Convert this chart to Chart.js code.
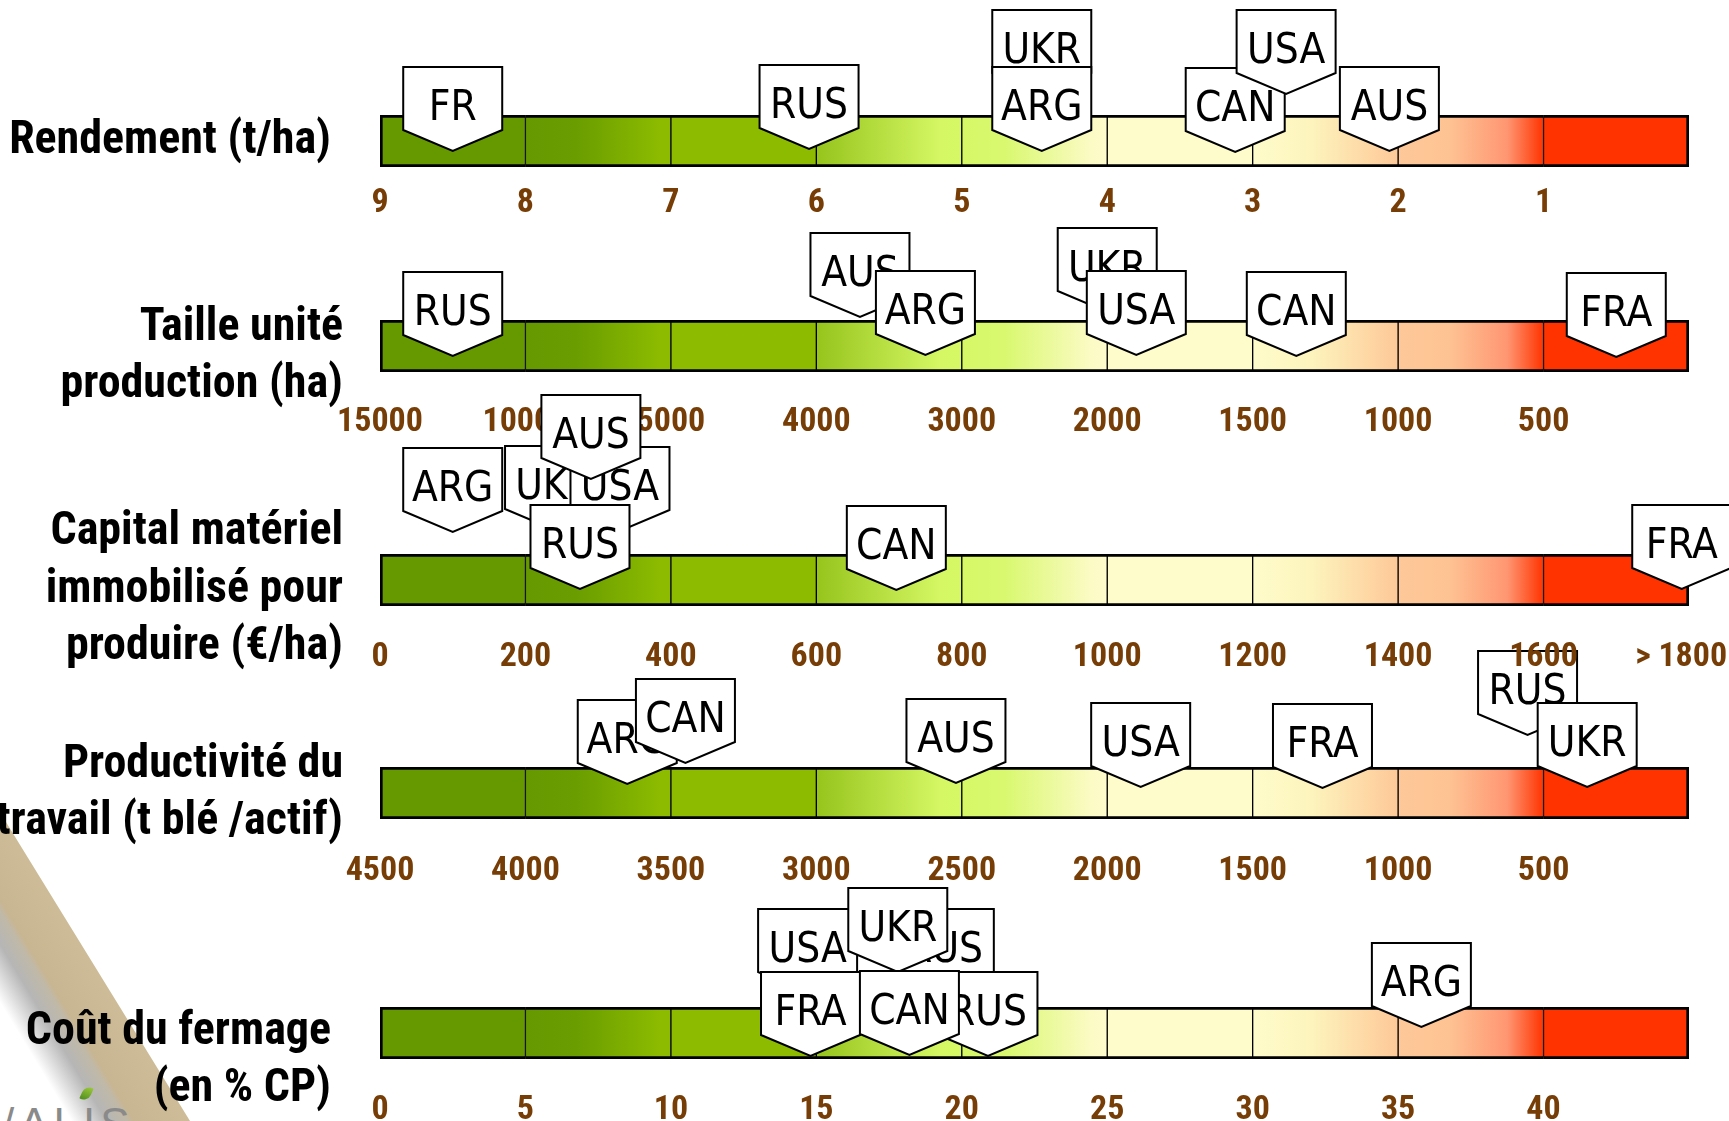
<!DOCTYPE html>
<html lang="fr">
<head>
<meta charset="utf-8">
<title>Compétitivité blé</title>
<script src="https://cdn.jsdelivr.net/npm/chart.js@4.4.1/dist/chart.umd.min.js"></script>
<style>
  html, body { margin: 0; padding: 0; background: #fff; }
  body { width: 1729px; height: 1121px; position: relative; overflow: hidden; }
  .ligne { position: absolute; left: 0; }
  #c3 { z-index: 2; }
  #bandeau { position: absolute; left: 0; top: 0; }
  #logo {
    position: absolute; left: 2px; top: 1099px; line-height: 1;
    font: 44px "Liberation Sans", sans-serif; color: #8a8a8a; letter-spacing: 5px;
  }
  #feuille {
    position: absolute; left: 82px; top: 1086px; width: 9px; height: 15px;
    background: linear-gradient(#9cc83a, #4f8f1c); border-radius: 8px 1px 8px 1px;
    transform: rotate(25deg);
  }
</style>
</head>
<body>
<svg id="bandeau" width="300" height="1121" viewBox="0 0 300 1121">
  <defs>
    <linearGradient id="gBandeau" gradientUnits="userSpaceOnUse" x1="30" y1="1052" x2="116" y2="1000">
      <stop offset="0" stop-color="#ffffff"/>
      <stop offset="0.3" stop-color="#b6b6b6"/>
      <stop offset="0.47" stop-color="#c0b9a8"/>
      <stop offset="0.53" stop-color="#c8b692"/>
      <stop offset="1" stop-color="#cdbc97"/>
    </linearGradient>
  </defs>
  <polygon points="0,812 9,827 190,1121 0,1121" fill="url(#gBandeau)"/>
</svg>
<div id="logo">/ALIS</div>
<div id="feuille"></div>
<canvas class="ligne" id="c1"></canvas>
<canvas class="ligne" id="c2"></canvas>
<canvas class="ligne" id="c3"></canvas>
<canvas class="ligne" id="c4"></canvas>
<canvas class="ligne" id="c5"></canvas>
<script>
// ---- données ----
const rendementTitre = ['Rendement (t/ha)'];
const rendementBornes = [9, 8, 7, 6, 5, 4, 3, 2, 1, 0];
const rendementEtiquettes = ['9', '8', '7', '6', '5', '4', '3', '2', '1', ''];
const rendementPays = ['FR', 'RUS', 'UKR', 'ARG', 'CAN', 'USA', 'AUS'];
const rendementValeurs = [8.5, 6.05, 4.45, 4.45, 3.12, 2.77, 2.06];

const tailleTitre = ['Taille unité', 'production (ha)'];
const tailleBornes = [15000, 10000, 5000, 4000, 3000, 2000, 1500, 1000, 500, 0];
const tailleEtiquettes = ['15000', '10000', '5000', '4000', '3000', '2000', '1500', '1000', '500', ''];
const taillePays = ['RUS', 'AUS', 'ARG', 'UKR', 'USA', 'CAN', 'FRA'];
const tailleValeurs = [12500, 3700, 3250, 2000, 1900, 1350, 250];

const capitalTitre = ['Capital matériel', 'immobilisé pour', 'produire (€/ha)'];
const capitalBornes = [0, 200, 400, 600, 800, 1000, 1200, 1400, 1600, 1800];
const capitalEtiquettes = ['0', '200', '400', '600', '800', '1000', '1200', '1400', '1600', '> 1800\u00a0\u00a0'];
const capitalPays = ['ARG', 'UKR', 'USA', 'AUS', 'RUS', 'CAN', 'FRA'];
const capitalValeurs = [100, 240, 330, 290, 275, 710, 1790];

const productiviteTitre = ['Productivité du', 'travail (t blé /actif)'];
const productiviteBornes = [4500, 4000, 3500, 3000, 2500, 2000, 1500, 1000, 500, 0];
const productiviteEtiquettes = ['4500', '4000', '3500', '3000', '2500', '2000', '1500', '1000', '500', ''];
const productivitePays = ['ARG', 'CAN', 'AUS', 'USA', 'FRA', 'RUS', 'UKR'];
const productiviteValeurs = [3650, 3450, 2520, 1885, 1260, 555, 350];

const fermageTitre = ['Coût du fermage', '(en % CP)'];
const fermageBornes = [0, 5, 10, 15, 20, 25, 30, 35, 40, 45];
const fermageEtiquettes = ['0', '5', '10', '15', '20', '25', '30', '35', '40', ''];
const fermagePays = ['AUS', 'USA', 'UKR', 'RUS', 'FRA', 'CAN', 'ARG'];
const fermageValeurs = [19.4, 14.7, 17.8, 20.9, 14.8, 18.2, 35.8];

// ---- mise en page (px) ----
const PAD_HAUT = 175;   // place au-dessus de la barre pour les balises
const BARRE_H = 52;
const AXE_H = 80;
const BRUN = '#773d06';
const POLICE_ETROITE = '"Roboto Condensed", "Liberation Sans Narrow", "DejaVu Sans Condensed", sans-serif';

// pointes : hauteur de la pointe de chaque balise par rapport au haut de la barre
const lignes = [
  { canvas: 'c1', haut: 115, titre: rendementTitre, bornes: rendementBornes, etiquettes: rendementEtiquettes,
    pays: rendementPays, valeurs: rendementValeurs, pointes: [36, 34, -21, 36, 37, -21, 36],
    padTick: 16, padTitre: 49, decalTitre: 0 },
  { canvas: 'c2', haut: 320, titre: tailleTitre, bornes: tailleBornes, etiquettes: tailleEtiquettes,
    pays: taillePays, valeurs: tailleValeurs, pointes: [36, -3, 35, -8, 35, 36, 37],
    padTick: 30, padTitre: 37, decalTitre: 11 },
  { canvas: 'c3', haut: 554, titre: capitalTitre, bornes: capitalBornes, etiquettes: capitalEtiquettes,
    pays: capitalPays, valeurs: capitalValeurs, pointes: [-22, -24, -23, -75, 35, 36, 35],
    padTick: 31, padTitre: 37, decalTitre: 10 },
  { canvas: 'c4', haut: 767, titre: productiviteTitre, bornes: productiviteBornes, etiquettes: productiviteEtiquettes,
    pays: productivitePays, valeurs: productiviteValeurs, pointes: [17, -4, 16, 20, 21, -32, 20],
    padTick: 32, padTitre: 37, decalTitre: 1 },
  { canvas: 'c5', haut: 1007, titre: fermageTitre, bornes: fermageBornes, etiquettes: fermageEtiquettes,
    pays: fermagePays, valeurs: fermageValeurs, pointes: [-14, -14, -35, 49, 49, 48, 20],
    padTick: 31, padTitre: 49, decalTitre: 28 }
];

// 9 cases de l'échelle : vert foncé -> jaune pâle -> rouge
const CASES = [
  [[0, '#669900'], [1, '#669900']],
  [[0, '#669900'], [0.35, '#6a9d00'], [0.92, '#8cbb00'], [1, '#8cbb00']],
  [[0, '#8cbb00'], [1, '#8cbb00']],
  [[0, '#96c41c'], [0.85, '#d4f763'], [1, '#d6f866']],
  [[0, '#d6f866'], [0.3, '#d9f870'], [0.9, '#fcfbc6'], [1, '#fefccb']],
  [[0, '#fefccb'], [1, '#fefccb']],
  [[0, '#fefccb'], [0.4, '#fdf4bd'], [1, '#fec898']],
  [[0, '#fec898'], [0.35, '#fec393'], [0.75, '#ff9672'], [1, '#ff3300']],
  [[0, '#ff3300'], [1, '#ff3300']]
];

// valeur réelle -> position sur l'échelle par cases (0..9)
function versPosition(valeur, bornes) {
  for (let i = 0; i < bornes.length - 1; i++) {
    const a = bornes[i], b = bornes[i + 1];
    if ((valeur - a) * (valeur - b) <= 0) return i + (valeur - a) / (b - a);
  }
  return bornes.length - 1;
}

function degrade(chart, i, arrets) {
  if (!chart.chartArea) return arrets[0][1];
  const x = chart.scales.x;
  const g = chart.ctx.createLinearGradient(x.getPixelForValue(i), 0, x.getPixelForValue(i + 1), 0);
  arrets.forEach(([p, c]) => g.addColorStop(p, c));
  return g;
}

function dessinerBalise(ctx, x, yPointe, texte) {
  const w = 99, hRect = 63, hPointe = 21;
  const top = yPointe - hRect - hPointe;
  ctx.save();
  ctx.beginPath();
  ctx.moveTo(x - w / 2, top);
  ctx.lineTo(x + w / 2, top);
  ctx.lineTo(x + w / 2, top + hRect);
  ctx.lineTo(x, yPointe);
  ctx.lineTo(x - w / 2, top + hRect);
  ctx.closePath();
  ctx.fillStyle = '#fff';
  ctx.fill();
  ctx.lineWidth = 2;
  ctx.strokeStyle = '#000';
  ctx.stroke();
  ctx.fillStyle = '#000';
  ctx.font = '42px "DejaVu Sans Condensed", "DejaVu Sans", sans-serif';
  ctx.textAlign = 'center';
  ctx.textBaseline = 'alphabetic';
  ctx.fillText(texte, x, top + 53);
  ctx.restore();
}

function balises(ligne) {
  return {
    id: 'balises',
    afterDatasetsDraw(chart) {
      const x = chart.scales.x;
      ligne.pays.forEach((nom, i) => {
        const px = x.getPixelForValue(versPosition(ligne.valeurs[i], ligne.bornes));
        dessinerBalise(chart.ctx, px, chart.chartArea.top + ligne.pointes[i], nom);
      });
    }
  };
}

function creerLigne(ligne) {
  const canvas = document.getElementById(ligne.canvas);
  canvas.width = 1729;
  canvas.height = PAD_HAUT + BARRE_H + AXE_H;
  canvas.style.top = (ligne.haut - PAD_HAUT) + 'px';

  const datasets = CASES.map((arrets, i) => ({
    data: [1],
    backgroundColor: (c) => degrade(c.chart, i, arrets),
    borderColor: '#000',
    borderWidth: { top: 3, bottom: 3, left: i === 0 ? 3 : 1, right: i === CASES.length - 1 ? 3 : 1 },
    borderSkipped: false,
    barPercentage: 1,
    categoryPercentage: 1
  }));

  return new Chart(canvas, {
    type: 'bar',
    data: { labels: [ligne.titre], datasets: datasets },
    options: {
      indexAxis: 'y',
      responsive: false,
      animation: false,
      events: [],
      layout: { padding: { top: PAD_HAUT, right: 40, bottom: 0, left: 0 } },
      plugins: { legend: { display: false }, tooltip: { enabled: false } },
      scales: {
        x: {
          type: 'linear', stacked: true, min: 0, max: 9,
          grid: { display: false, drawTicks: false },
          border: { display: false },
          ticks: {
            stepSize: 1, autoSkip: false, maxRotation: 0,
            padding: ligne.padTick, color: BRUN,
            font: { family: POLICE_ETROITE, size: 34, weight: 'bold' },
            callback: (v) => ligne.etiquettes[Math.round(v)] || ''
          },
          afterFit: (s) => { s.height = AXE_H; s.paddingLeft = 0; s.paddingRight = 0; }
        },
        y: {
          stacked: true,
          grid: { display: false, drawTicks: false },
          border: { display: false },
          ticks: {
            color: '#000', padding: ligne.padTitre, labelOffset: ligne.decalTitre,
            font: { family: POLICE_ETROITE, size: 46, weight: 'bold', lineHeight: 1.26 }
          },
          afterFit: (s) => { s.width = 380; s.paddingTop = 0; s.paddingBottom = 0; }
        }
      }
    },
    plugins: [balises(ligne)]
  });
}

lignes.forEach(creerLigne);
</script>
</body>
</html>
